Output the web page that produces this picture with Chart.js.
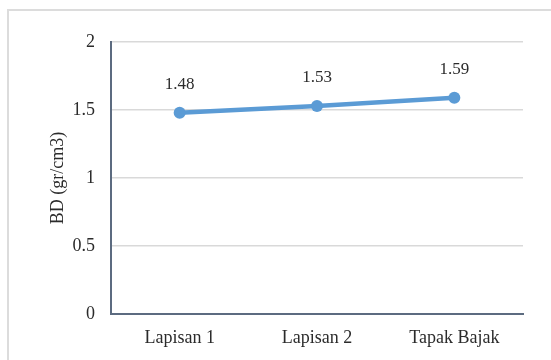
<!DOCTYPE html>
<html>
<head>
<meta charset="utf-8">
<script src="https://cdn.jsdelivr.net/npm/chart.js@4"></script>
<style>
    html, body { margin: 0; padding: 0; background: #fff; overflow: hidden; }
    #frame { position: absolute; left: 7px; top: 9px; width: 620px; height: 420px; border: 2px solid #dcdcdc; }
    #wrap { position: absolute; left: 0; top: 0; width: 551px; height: 360px; }
</style>
</head>
<body>
<div id="frame"></div>
<div id="wrap"><canvas id="bdChart"></canvas></div>
<script>
const layers = ['Lapisan 1', 'Lapisan 2', 'Tapak Bajak'];
const bdValues = [1.48, 1.53, 1.59];
const yTicks = [0, 0.5, 1, 1.5, 2];

const serif = '"Liberation Serif", "Times New Roman", serif';

// Writes the value above each point
const valueLabelPlugin = {
    id: 'valueLabelPlugin',
    afterDatasetsDraw: (chart) => {
        const ctx = chart.ctx;
        const meta = chart.getDatasetMeta(0);
        ctx.save();
        ctx.font = '17px ' + serif;
        ctx.fillStyle = '#2b2b2b';
        ctx.textAlign = 'center';
        ctx.textBaseline = 'middle';
        meta.data.forEach((pt, i) => {
            ctx.fillText(bdValues[i].toFixed(2), pt.x, pt.y - 28);
        });
        ctx.restore();
    }
};

const ctx = document.getElementById('bdChart').getContext('2d');
const bdChart = new Chart(ctx, {
    type: 'line',
    data: {
        labels: layers,
        datasets: [{
            label: 'BD',
            data: bdValues,
            borderColor: '#5b9bd5',
            backgroundColor: '#5b9bd5',
            borderWidth: 4.5,
            pointRadius: 6,
            pointBorderWidth: 0,
            pointHoverRadius: 6,
            fill: false,
            tension: 0
        }]
    },
    options: {
        responsive: true,
        maintainAspectRatio: false,
        animation: false,
        layout: {
            padding: { left: 47, right: 28, top: 42, bottom: 0 }
        },
        scales: {
            x: {
                offset: true,
                grid: { display: false, drawTicks: false },
                border: { display: true, color: '#5c6b80', width: 2 },
                ticks: {
                    color: '#2b2b2b',
                    font: { family: serif, size: 18 },
                    padding: 13
                },
                afterFit: (scale) => { scale.height = 46; }
            },
            y: {
                min: 0,
                max: 2,
                afterBuildTicks: (scale) => {
                    scale.ticks = yTicks.map(v => ({ value: v }));
                },
                grid: { color: '#d9d9d9', lineWidth: 1.5, drawTicks: false },
                border: { display: true, color: '#5c6b80', width: 2 },
                ticks: {
                    color: '#2b2b2b',
                    font: { family: serif, size: 18 },
                    padding: 16,
                    callback: (v) => String(v)
                },
                title: {
                    display: true,
                    text: 'BD (gr/cm3)',
                    color: '#2b2b2b',
                    font: { family: serif, size: 18 },
                    padding: { top: 0, bottom: 0 }
                },
                afterFit: (scale) => { scale.width = 64; }
            }
        },
        plugins: {
            legend: { display: false },
            tooltip: { enabled: false }
        }
    },
    plugins: [valueLabelPlugin]
});
</script>
</body>
</html>
